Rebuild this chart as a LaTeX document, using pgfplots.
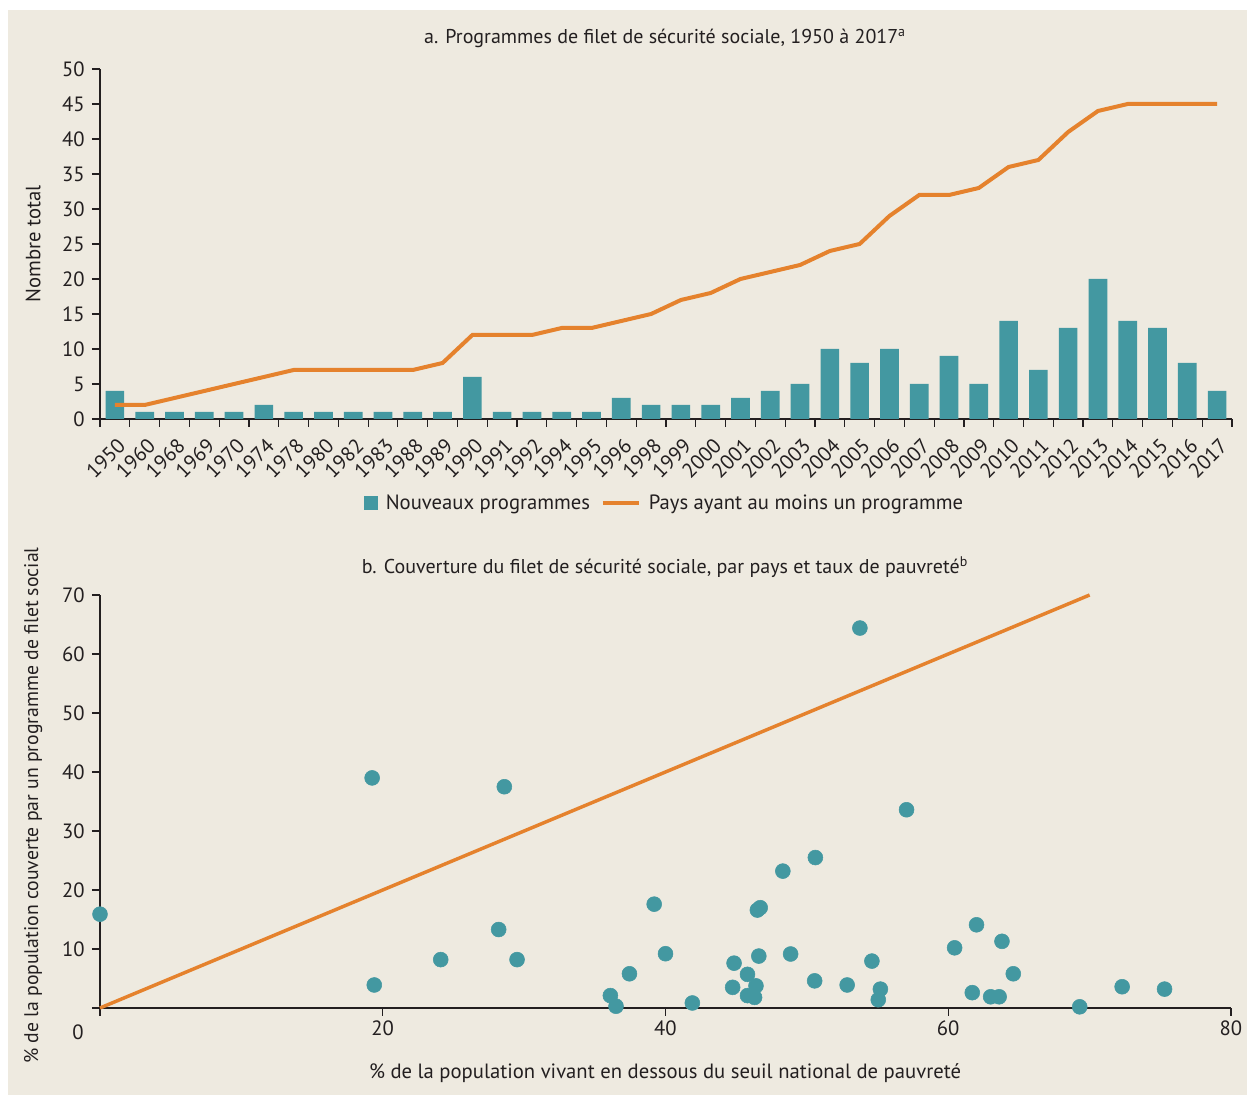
\documentclass[border=0pt]{standalone}
\usepackage{fontspec}
\setmainfont{PT Sans}
\usepackage{pgfplots}
\usepackage{pgfplotstable}
\pgfplotsset{compat=1.18}

\definecolor{fond}{HTML}{EEEAE0}
\definecolor{sarcelle}{HTML}{4398A1}
\definecolor{orange2}{HTML}{E5822D}
\definecolor{axe}{HTML}{231F20}

% panel a: new programmes per year and countries with at least one programme
\pgfplotstableread{
idx annee nouveaux pays
0  1950 4  2
1  1960 1  2
2  1968 1  3
3  1969 1  4
4  1970 1  5
5  1974 2  6
6  1978 1  7
7  1980 1  7
8  1982 1  7
9  1983 1  7
10 1988 1  7
11 1989 1  8
12 1990 6  12
13 1991 1  12
14 1992 1  12
15 1994 1  13
16 1995 1  13
17 1996 3  14
18 1998 2  15
19 1999 2  17
20 2000 2  18
21 2001 3  20
22 2002 4  21
23 2003 5  22
24 2004 10 24
25 2005 8  25
26 2006 10 29
27 2007 5  32
28 2008 9  32
29 2009 5  33
30 2010 14 36
31 2011 7  37
32 2012 13 41
33 2013 20 44
34 2014 14 45
35 2015 13 45
36 2016 8  45
37 2017 4  45
}\prog

% panel b: poverty rate vs coverage
\pgfplotstableread{
pauvrete couverture
0     15.9
19.25 39.0
28.6  37.5
19.4  3.9
24.1  8.2
28.2  13.3
29.5  8.2
36.1  2.1
36.5  0.3
37.45 5.8
39.2  17.6
40.0  9.2
41.9  0.85
44.85 7.6
44.75 3.5
45.8  5.7
45.8  2.1
46.3  1.8
46.4  3.75
46.5  16.6
46.7  17.0
46.6  8.8
48.3  23.2
48.85 9.15
50.6  25.5
50.55 4.6
52.85 3.9
53.75 64.4
54.6  7.95
55.2  3.2
55.05 1.4
57.05 33.6
60.45 10.2
61.7  2.6
62.0  14.1
63.0  1.9
63.6  1.9
63.8  11.3
64.6  5.8
69.3  0.2
72.3  3.6
75.3  3.2
}\couv

\pgfplotsset{
  panneau/.style={
    scale only axis,
    axis lines=left,
    axis line style={-, line width=0.9pt, draw=axe},
    tick align=outside,
    major tick length=6pt, minor tick length=6pt,
    every tick/.style={draw=axe, line width=0.9pt},
    tick label style={text=axe, font=\fontsize{15.5}{18}\selectfont},
    yticklabel style={xshift=-2pt},
    label style={text=axe, font=\fontsize{15.5}{18}\selectfont},
    /pgf/number format/assume math mode=true,
  }
}

\begin{document}
\begin{tikzpicture}[font=\fontsize{15.5}{18}\selectfont]
\useasboundingbox (0,0) rectangle (935.25pt,821.25pt);
\fill[white] (0,0) rectangle (935.25pt,821.25pt);
\fill[fond] (6pt,0) rectangle (935.25pt,813.75pt);

\node[text=axe, font=\fontsize{15}{18}\selectfont] at (498.75pt,792.75pt) {a. Programmes de filet de sécurité sociale, 1950 à 2017\textsuperscript{a}};

\begin{axis}[
  panneau,
  at={(75pt,507pt)}, anchor=south west,
  width=849pt, height=262.5pt,
  xmin=-0.5, xmax=37.5, ymin=0, ymax=50,
  ytick={0,5,...,50},
  xtick={0,...,37},
  xticklabels from table={\prog}{annee},
  minor xtick={-0.5,0.5,...,37.5},
  major x tick style={draw=none},
  xticklabel style={xshift=7.5pt, yshift=-9pt, rotate=45, anchor=east},
  ylabel={Nombre total},
  y label style={at={(axis description cs:-0.059,0.5)}, anchor=center},
  legend style={at={(0.499,-0.24)}, anchor=center, draw=none, fill=none,
    legend columns=-1, font=\fontsize{15.5}{18}\selectfont, text=axe,
    /tikz/every odd column/.append style={column sep=4pt},
    /tikz/every even column/.append style={column sep=6pt}},
]
\addplot[ybar, bar width=14pt, fill=sarcelle, draw=none,
  legend image code/.code={\fill[sarcelle] (0pt,-5.6pt) rectangle (10.5pt,5.6pt);}]
  table[x=idx, y=nouveaux]{\prog};
\addlegendentry{Nouveaux programmes}
\addplot[orange2, line width=3pt, no marks,
  legend image code/.code={\draw[orange2, line width=3pt] (0pt,0pt) -- (27pt,0pt);}]
  table[x=idx, y=pays]{\prog};
\addlegendentry{Pays ayant au moins un programme}
\end{axis}

\node[text=axe, font=\fontsize{15}{18}\selectfont] at (498.75pt,396pt) {b. Couverture du filet de sécurité sociale, par pays et taux de pauvreté\textsuperscript{b}};

\begin{axis}[
  panneau,
  at={(75pt,65.25pt)}, anchor=south west,
  width=848.25pt, height=309.75pt,
  xmin=0, xmax=80, ymin=0, ymax=70,
  clip=false,
  xtick={0,20,...,80}, xticklabels={,20,40,60,80},
  ytick={0,10,...,70}, yticklabels={,10,20,30,40,50,60,70},
  xlabel={\% de la population vivant en dessous du seuil national de pauvreté},
  x label style={at={(axis description cs:0.4996,-0.157)}, anchor=center},
  ylabel={\% de la population couverte par un programme de filet social},
  y label style={at={(axis description cs:-0.059,0.49)}, anchor=center,
    font=\fontsize{14.8}{18}\selectfont},
]
\addplot[orange2, line width=2.6pt] coordinates {(0,0) (70,70)};
\addplot[only marks, mark=*, mark size=5.6pt, color=sarcelle]
  table[x=pauvrete, y=couverture]{\couv};
\node[text=axe] at (axis cs:0,0) [xshift=-16.5pt, yshift=-18pt] {0};
\end{axis}
\end{tikzpicture}
\end{document}
